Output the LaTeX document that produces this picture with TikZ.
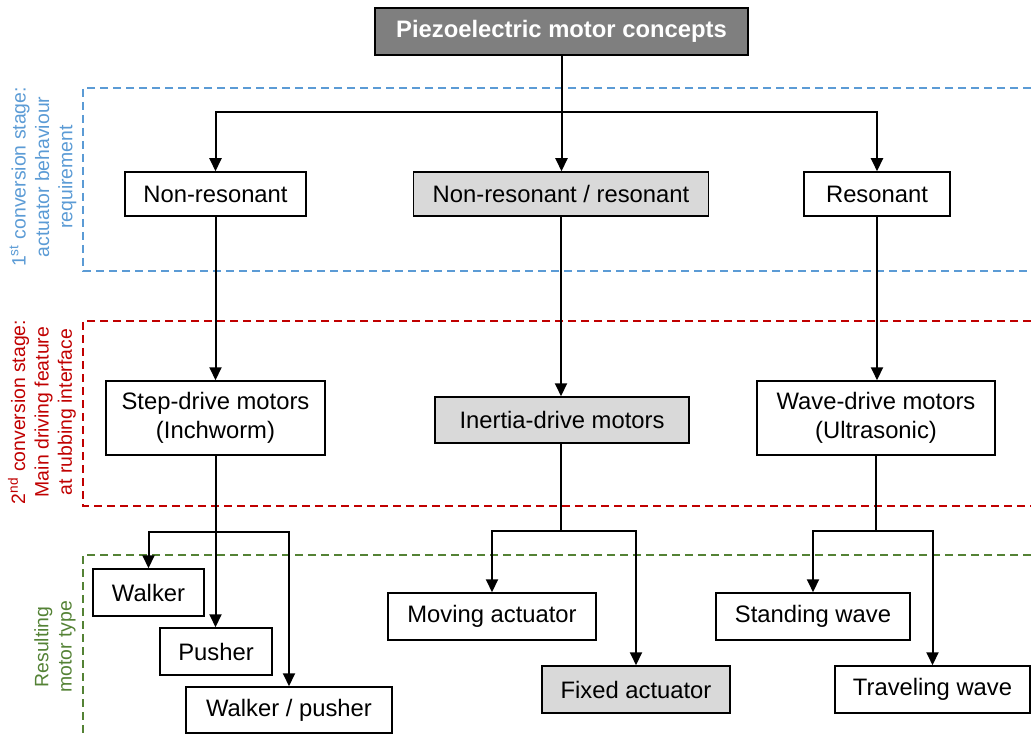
\documentclass[tikz,border=0pt]{standalone}
\usepackage{fontspec}
\setmainfont{Liberation Sans}
\usetikzlibrary{arrows.meta}
\definecolor{cblue}{HTML}{5B9BD5}
\definecolor{cred}{HTML}{C00000}
\definecolor{cgreen}{HTML}{548235}
\definecolor{dgray}{HTML}{7F7F7F}
\definecolor{lgray}{HTML}{D9D9D9}
\begin{document}
\begin{tikzpicture}[x=0.5pt,y=-0.5pt,
  box/.style={draw=black,line width=0.75pt,inner sep=0pt,align=center,font=\fontsize{11.9}{14.5}\selectfont},
  line/.style={line width=1pt},
  arr/.style={line width=1pt,-{Triangle[width=6pt,length=6.5pt]}},
  zone/.style={line width=0.75pt,dash pattern=on 4pt off 2.5pt},
  lab/.style={rotate=90,align=center,font=\fontsize{9.7}{11.7}\selectfont}]
\useasboundingbox (0,0) rectangle (1031,737);
% zones
\draw[zone,cblue] (1031,88) -- (83,88) -- (83,271) -- (1031,271);
\draw[zone,cred] (1031,321) -- (83,321) -- (83,506) -- (1031,506);
\draw[zone,cgreen] (1031,555) -- (83,555) -- (83,737);
\node[lab,text=cblue] (l1) at (43,177) {1\textsuperscript{st} conversion stage:\\actuator behaviour\\requirement};
\node[lab,text=cred] (l2) at (42,412) {2\textsuperscript{nd} conversion stage:\\Main driving feature\\at rubbing interface};
\node[lab,text=cgreen] (l3) at (55,647) {Resulting\\motor type};
% nodes
\node[box,fill=dgray,text=white,font=\fontsize{11.9}{14.5}\selectfont\bfseries,minimum width=186.5pt,minimum height=23.5pt] (top) at (561.5,31.5) {Piezoelectric motor concepts};
\node[box,minimum width=90.5pt,minimum height=22pt] (nr) at (215.5,194) {Non-resonant};
\node[box,fill=lgray,minimum width=147.5pt,minimum height=22pt] (nrr) at (561,194) {Non-resonant / resonant};
\node[box,minimum width=73pt,minimum height=22pt] (res) at (877,194) {Resonant};
\node[box,minimum width=109.5pt,minimum height=37pt] (step) at (215.5,418) {Step-drive motors\\(Inchworm)};
\node[box,fill=lgray,minimum width=127pt,minimum height=23pt] (inertia) at (562,420) {Inertia-drive motors};
\node[box,minimum width=119pt,minimum height=37pt] (wave) at (876,418) {Wave-drive motors\\(Ultrasonic)};
\node[box,minimum width=55.5pt,minimum height=23.5pt] (walker) at (148.5,592.5) {Walker};
\node[box,minimum width=56pt,minimum height=23.5pt] (pusher) at (216,651.5) {Pusher};
\node[box,minimum width=103pt,minimum height=23pt] (wp) at (289,710) {Walker / pusher};
\node[box,minimum width=104pt,minimum height=23.5pt] (moving) at (492,616.5) {Moving actuator};
\node[box,fill=lgray,minimum width=94pt,minimum height=23.5pt] (fixed) at (636,689.5) {Fixed actuator};
\node[box,minimum width=97pt,minimum height=23.5pt] (standing) at (813,616.5) {Standing wave};
\node[box,minimum width=97.5pt,minimum height=23.5pt] (traveling) at (932.5,689.5) {Traveling wave};
% junctions
\coordinate (tj) at (top.south |- 0,112);
\coordinate (sj) at (step.south |- 0,532);
\coordinate (ij) at (nrr.south |- 0,531);
\coordinate (wj) at (wave.south |- 0,531);
% connectors
\draw[line] (top.south) -- (tj);
\draw[arr] (tj) -| (nr.north);
\draw[arr] (tj) -- (tj |- nrr.north);
\draw[arr] (tj) -| (res.north);
\draw[arr] (nr.south) -- (nr.south |- step.north);
\draw[arr] (nrr.south) -- (nrr.south |- inertia.north);
\draw[arr] (res.south) -- (res.south |- wave.north);
\draw[line] (step.south) -- (sj);
\draw[arr] (sj) -| (walker.north);
\draw[arr] (sj) -- (sj |- pusher.north);
\draw[arr] (sj) -| (wp.north);
\draw[line] (ij |- inertia.south) -- (ij);
\draw[arr] (ij) -| (moving.north);
\draw[arr] (ij) -| (fixed.north);
\draw[line] (wave.south) -- (wj);
\draw[arr] (wj) -| (standing.north);
\draw[arr] (wj) -| (traveling.north);
\end{tikzpicture}
\end{document}
